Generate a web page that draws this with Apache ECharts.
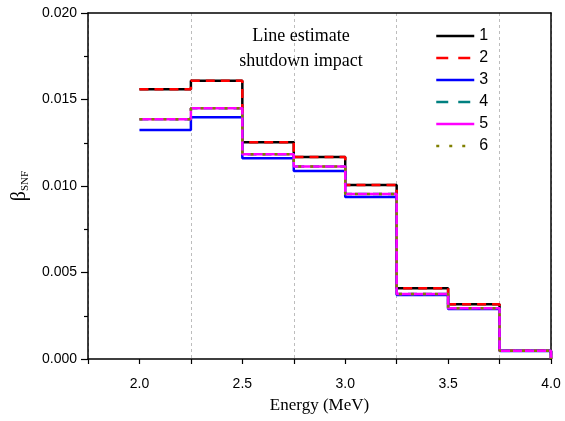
<!DOCTYPE html>
<html>
<head>
<meta charset="utf-8">
<script src="https://cdn.jsdelivr.net/npm/echarts@6/dist/echarts.min.js"></script>
<style>html,body{margin:0;padding:0;background:#fff}#c{width:565px;height:421px}</style>
</head>
<body>
<div id="c"></div>
<script>
// Bin edges (MeV)
const edges = [2.0, 2.25, 2.5, 2.75, 3.0, 3.25, 3.5, 3.75, 4.0];
const seriesNames = ['1', '2', '3', '4', '5', '6'];
// beta_SNF per bin
const s1 = [0.01559, 0.01609, 0.01253, 0.01168, 0.01006, 0.00409, 0.00316, 0.00048];
const s2 = [0.01559, 0.01609, 0.01253, 0.01168, 0.01006, 0.00409, 0.00316, 0.00048];
const s3 = [0.01324, 0.01397, 0.01160, 0.01087, 0.00936, 0.00370, 0.00289, 0.00046];
const s4 = [0.01386, 0.01449, 0.01183, 0.01112, 0.00954, 0.00376, 0.00293, 0.00047];
const s5 = [0.01386, 0.01449, 0.01183, 0.01112, 0.00954, 0.00376, 0.00293, 0.00047];
const s6 = [0.01386, 0.01449, 0.01183, 0.01112, 0.00954, 0.00376, 0.00293, 0.00047];
const xTickLabels = ['2.0', '2.5', '3.0', '3.5', '4.0'];
const yTickLabels = ['0.000', '0.005', '0.010', '0.015', '0.020'];

const allVals = [s1, s2, s3, s4, s5, s6];
const styles = [
  {color: '#000000', type: 'solid', legendType: 'solid'},
  {color: '#ff0000', type: [9, 6], legendType: [12, 10]},
  {color: '#0000ff', type: 'solid', legendType: 'solid'},
  {color: '#008080', type: [9, 6], legendType: [12, 10]},
  {color: '#ff00ff', type: 'solid', legendType: 'solid'},
  {color: '#808000', type: [3, 9], legendType: [3, 10]}
];

function stepData(vals) {
  return edges.map((e, i) => [e, i < vals.length ? vals[i] : 0]);
}

const chart = echarts.init(document.getElementById('c'), null, {renderer: 'canvas'});
const sans = 'Liberation Sans, Arial, sans-serif';
const serif = 'Liberation Serif, Times New Roman, serif';

chart.setOption({
  animation: false,
  grid: {left: 88, right: 14, top: 13, bottom: 62, show: false},
  legend: {
    orient: 'vertical', left: 435, top: 28, padding: 0,
    itemWidth: 38, itemHeight: 14, itemGap: 6,
    itemStyle: {opacity: 0},
    textStyle: {fontFamily: sans, fontSize: 16, color: '#000'},
    data: seriesNames.map((n, k) => ({name: n, lineStyle: {type: styles[k].legendType, width: 2.5, color: styles[k].color}}))
  },
  graphic: [{
    type: 'text', left: 226, top: 24,
    style: {text: 'Line estimate\nshutdown impact', font: '18px ' + serif, fill: '#000', textAlign: 'center', lineHeight: 25, width: 150}
  }],
  xAxis: [{
    type: 'value', min: 1.75, max: 4.0, interval: 0.25,
    name: 'Energy (MeV)', nameLocation: 'middle', nameGap: 38,
    nameTextStyle: {fontFamily: serif, fontSize: 17, color: '#000'},
    axisLine: {show: true, onZero: false, lineStyle: {color: '#000', width: 1.5}},
    axisTick: {show: true, length: 5, lineStyle: {color: '#000', width: 1.2}},
    axisLabel: {
      showMaxLabel: true, margin: 18, fontFamily: sans, fontSize: 14, color: '#000',
      formatter: v => { const s = v.toFixed(1); return (xTickLabels.includes(s) && Math.abs(v * 2 - Math.round(v * 2)) < 1e-6) ? s : ''; }
    },
    splitLine: {show: false}
  }, {
    type: 'value', min: 1.75, max: 4.0, interval: 0.5, position: 'bottom', gridIndex: 0,
    axisLine: {show: false}, axisTick: {show: false}, axisLabel: {show: false},
    splitLine: {show: true, lineStyle: {color: '#bdbdbd', type: [3, 3], width: 1}}
  }, {
    type: 'value', min: 1.75, max: 4.0, position: 'top', gridIndex: 0,
    axisLine: {show: true, onZero: false, lineStyle: {color: '#000', width: 1.5}},
    axisTick: {show: false}, axisLabel: {show: false}, splitLine: {show: false}
  }],
  yAxis: [{
    type: 'value', min: 0, max: 0.02, interval: 0.005,
    name: '{b|β}{s|SNF}', nameLocation: 'middle', nameGap: 56,
    nameTextStyle: {
      rich: {
        b: {fontFamily: serif, fontSize: 20, color: '#000', lineHeight: 22, verticalAlign: 'middle'},
        s: {fontFamily: serif, fontSize: 11, color: '#000', lineHeight: 22, verticalAlign: 'bottom', padding: [9, 0, 0, 0]}
      }
    },
    axisLine: {show: true, onZero: false, lineStyle: {color: '#000', width: 1.5}},
    axisTick: {show: true, length: 7, lineStyle: {color: '#000', width: 1.2}},
    minorTick: {show: true, splitNumber: 2, length: 4, lineStyle: {color: '#000', width: 1.2}},
    axisLabel: {margin: 11, fontFamily: sans, fontSize: 14, color: '#000', formatter: (v, i) => yTickLabels[i] !== undefined ? yTickLabels[i] : v.toFixed(3)},
    splitLine: {show: false}
  }, {
    type: 'value', min: 0, max: 0.02, position: 'right',
    axisLine: {show: true, onZero: false, lineStyle: {color: '#000', width: 1.5}},
    axisTick: {show: false}, axisLabel: {show: false}, splitLine: {show: false}
  }],
  series: allVals.map((vals, k) => ({
    name: seriesNames[k], type: 'line', step: 'end', symbol: 'none',
    xAxisIndex: 0, yAxisIndex: 0,
    data: stepData(vals),
    lineStyle: {color: styles[k].color, type: styles[k].type, width: 2.5},
    itemStyle: {color: styles[k].color},
    z: 2 + k
  }))
});
</script>
</body>
</html>
